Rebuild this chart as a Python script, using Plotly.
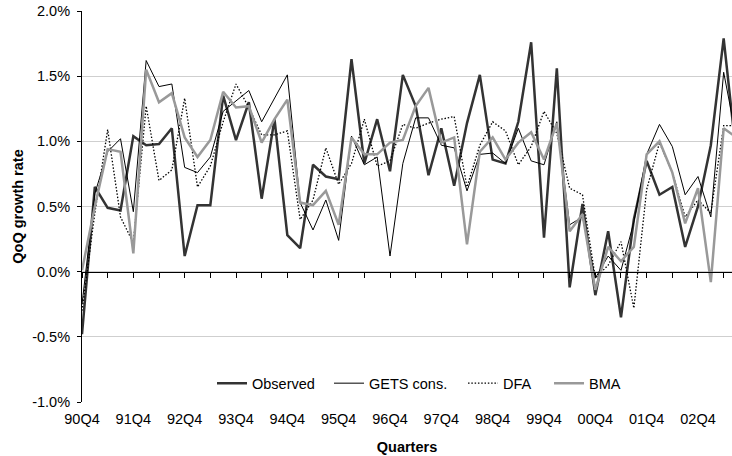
import plotly.graph_objects as go

quarters = ["90Q4",
            "91Q1", "91Q2", "91Q3", "91Q4", "92Q1", "92Q2", "92Q3", "92Q4",
            "93Q1", "93Q2", "93Q3", "93Q4", "94Q1", "94Q2", "94Q3", "94Q4",
            "95Q1", "95Q2", "95Q3", "95Q4", "96Q1", "96Q2", "96Q3", "96Q4",
            "97Q1", "97Q2", "97Q3", "97Q4", "98Q1", "98Q2", "98Q3", "98Q4",
            "99Q1", "99Q2", "99Q3", "99Q4", "00Q1", "00Q2", "00Q3", "00Q4",
            "01Q1", "01Q2", "01Q3", "01Q4", "02Q1", "02Q2", "02Q3", "02Q4",
            "03Q1", "03Q2", "03Q3"]

observed = [-0.48, 0.65, 0.49, 0.47, 1.04, 0.97, 0.98, 1.10, 0.12, 0.51,
            0.51, 1.35, 1.01, 1.30, 0.56, 1.17, 0.28, 0.18, 0.82, 0.73,
            0.71, 1.63, 0.83, 1.17, 0.77, 1.51, 1.27, 0.74, 1.10, 0.66,
            1.14, 1.51, 0.86, 0.83, 1.15, 1.76, 0.26, 1.56, -0.12, 0.52,
            -0.18, 0.31, -0.35, 0.40, 0.85, 0.59, 0.65, 0.19, 0.50, 0.97,
            1.79, 0.88]

gets = [-0.25, 0.60, 0.92, 1.02, 0.46, 1.62, 1.42, 1.44, 0.80, 0.76,
        0.88, 1.23, 1.31, 1.39, 1.15, 1.33, 1.51, 0.53, 0.32, 0.55,
        0.24, 1.04, 0.82, 0.88, 0.12, 0.83, 1.18, 1.18, 0.97, 0.95,
        0.62, 0.90, 0.91, 0.83, 1.10, 0.85, 0.82, 1.15, 0.36, 0.42,
        -0.05, 0.12, 0.01, 0.38, 0.90, 1.13, 0.96, 0.59, 0.73, 0.42,
        1.53, 1.02]

dfa = [-0.30, 0.45, 1.09, 0.42, 0.22, 1.27, 0.70, 0.78, 1.33, 0.65,
       0.81, 1.15, 1.44, 1.26, 1.05, 1.05, 1.08, 0.40, 0.55, 0.95,
       0.67, 0.83, 1.17, 0.81, 0.85, 1.13, 1.10, 1.14, 1.17, 1.19,
       0.65, 0.97, 1.15, 1.08, 0.82, 0.96, 1.23, 1.06, 0.64, 0.59,
       -0.05, 0.05, 0.23, -0.28, 0.63, 0.99, 0.76, 0.42, 0.55, 0.45,
       1.12, 1.12]

bma = [0.01, 0.50, 0.94, 0.92, 0.14, 1.55, 1.30, 1.37, 1.03, 0.88,
       1.01, 1.38, 1.26, 1.27, 0.99, 1.17, 1.32, 0.53, 0.51, 0.62,
       0.36, 1.03, 0.90, 0.90, 0.99, 1.01, 1.27, 1.41, 0.99, 1.03,
       0.21, 0.92, 1.03, 0.86, 0.99, 1.07, 0.86, 1.14, 0.31, 0.44,
       -0.14, 0.19, 0.08, 0.19, 0.90, 1.00, 0.76, 0.37, 0.64, -0.08,
       1.10, 1.03]

x_tick_labels = ["90Q4", "91Q4", "92Q4", "93Q4", "94Q4", "95Q4", "96Q4",
                 "97Q4", "98Q4", "99Q4", "00Q4", "01Q4", "02Q4"]
y_tick_values = [-1.0, -0.5, 0.0, 0.5, 1.0, 1.5, 2.0]
y_tick_labels = ["-1.0%", "-0.5%", "0.0%", "0.5%", "1.0%", "1.5%", "2.0%"]

xs = list(range(len(quarters)))
label_pos = [quarters.index(q) for q in x_tick_labels]
minor_pos = xs[::2]
x_range = [0, 50.65]

FONT = "Liberation Sans, Arial, sans-serif"
FS = 14.5

fig = go.Figure()
fig.add_trace(go.Scatter(x=xs, y=observed, name="Observed", mode="lines",
                         line=dict(color="#333333", width=2.5),
                         legend="legend"))
fig.add_trace(go.Scatter(x=xs, y=gets, name="GETS cons.", mode="lines",
                         line=dict(color="#000000", width=1),
                         legend="legend2"))
fig.add_trace(go.Scatter(x=xs, y=dfa, name="DFA", mode="lines",
                         line=dict(color="#000000", width=1.3,
                                   dash="1.5px,1.8px"),
                         legend="legend3"))
fig.add_trace(go.Scatter(x=xs, y=bma, name="BMA", mode="lines",
                         line=dict(color="#999999", width=2.5),
                         legend="legend4"))
# helper trace so the zero-line axis (with tick marks) is drawn
fig.add_trace(go.Scatter(x=[0, 50], y=[None, None], xaxis="x2", yaxis="y",
                         showlegend=False, hoverinfo="skip", mode="lines"))

legend_common = dict(orientation="h", xanchor="left", y=0.048,
                     yanchor="middle", bgcolor="rgba(0,0,0,0)",
                     font=dict(size=FS))

fig.update_layout(
    width=732, height=456,
    margin=dict(l=82, r=0, t=11, b=54, autoexpand=False),
    paper_bgcolor="white", plot_bgcolor="white",
    font=dict(family=FONT, size=FS, color="#000000"),
    xaxis=dict(range=x_range, tickmode="array", tickvals=label_pos,
               ticktext=x_tick_labels, showgrid=False, zeroline=False,
               showline=False, ticks="", ticklabelstandoff=6,
               automargin=False,
               title=dict(text="<b>Quarters</b>", standoff=16,
                          font=dict(size=FS))),
    xaxis2=dict(overlaying="x", anchor="free", position=1/3, range=x_range,
                tickmode="array", tickvals=minor_pos, showticklabels=False,
                ticks="outside", ticklen=5, tickcolor="#000000", tickwidth=1,
                showline=True, linecolor="#000000", linewidth=1,
                showgrid=False, zeroline=False, automargin=False),
    yaxis=dict(range=[-1, 2], tickmode="array", tickvals=y_tick_values,
               ticktext=y_tick_labels, showgrid=True, gridcolor="#cfcfcf",
               gridwidth=1, zeroline=False, showline=True,
               linecolor="#000000", linewidth=1, ticks="outside", ticklen=4,
               tickcolor="#000000", ticklabelstandoff=4, automargin=False,
               title=dict(text="<b>QoQ growth rate</b>", standoff=5,
                          font=dict(size=FS))),
    legend=dict(x=0.2000, **legend_common),
    legend2=dict(x=0.3800, **legend_common),
    legend3=dict(x=0.5862, **legend_common),
    legend4=dict(x=0.7185, **legend_common),
    showlegend=True,
)

fig.write_html("out.html",
               config={"displayModeBar": False},
               post_script="document.body.style.margin='0';"
                           "document.body.style.overflow='hidden';")
